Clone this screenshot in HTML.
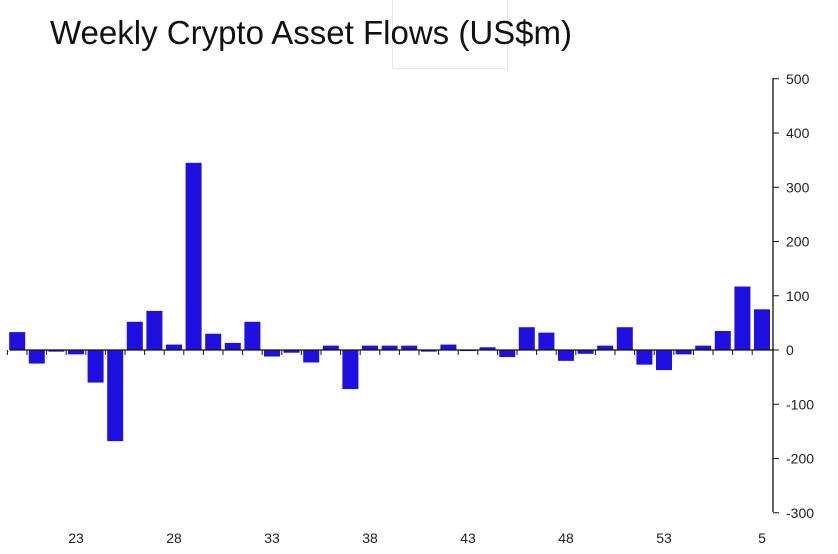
<!DOCTYPE html>
<html><head><meta charset="utf-8"><style>
html,body{margin:0;padding:0;background:#fff;}
body{width:838px;height:554px;overflow:hidden;position:relative;font-family:"Liberation Sans",sans-serif;}
#title{position:absolute;left:50px;top:14px;font-size:33px;color:#111;white-space:nowrap;}
#ghost{position:absolute;left:392px;top:-2px;width:114px;height:70px;border:1px solid #e6e6e6;border-top:none;}
svg{position:absolute;left:0;top:0;}
</style></head><body>
<div id="ghost"></div>
<div id="title">Weekly Crypto Asset Flows (US$m)</div>
<svg id="chart" width="838" height="554"></svg>
<script>
const weeks = [20,21,22,23,24,25,26,27,28,29,30,31,32,33,34,35,36,37,38,39,40,41,42,43,44,45,46,47,48,49,50,51,52,53,1,2,3,4,5];
const flows = [33,-25,-3,-8,-60,-168,52,72,10,345,30,13,52,-12,-5,-23,8,-72,8,8,8,-3,10,-2,5,-13,42,32,-20,-7,8,42,-27,-37,-8,8,35,117,75];
const yTicks = [500,400,300,200,100,0,-100,-200,-300];
const xLabelWeeks = [23,28,33,38,43,48,53,5];

const svg = document.getElementById('chart');
const NS = 'http://www.w3.org/2000/svg';
const y0 = 350, pxPerUnit = (512 - 78) / 800;
const yScale = v => y0 - v * pxPerUnit;
const step = 19.6, lastX = 762;
const xScale = i => lastX - (flows.length - 1 - i) * step;
const barW = 16;
function mk(tag, attrs) { const e = document.createElementNS(NS, tag); for (const k in attrs) e.setAttribute(k, attrs[k]); svg.appendChild(e); return e; }

flows.forEach((v, i) => {
  const top = Math.min(yScale(v), y0), h = Math.abs(yScale(v) - y0);
  const r = mk('rect', {x: xScale(i) - barW / 2, y: top, width: barW, height: h, fill: '#1d10e0'});
  
  
});

const zl = mk('line', {x1: 10, x2: 773, y1: y0, y2: y0, stroke: '#111', 'stroke-width': 1.3});


for (let i = 0; i < flows.length; i++) {
  const bx = xScale(i) - step / 2;
  const t = mk('line', {x1: bx, x2: bx, y1: y0, y2: y0 + 5, stroke: '#111', 'stroke-width': 1});
  
  
}
const ax = mk('line', {x1: 773, x2: 773, y1: 78, y2: 512, stroke: '#111', 'stroke-width': 1.3});


yTicks.forEach(v => {
  const y = yScale(v);
  const t = mk('line', {x1: 773, x2: 779, y1: y, y2: y, stroke: '#111', 'stroke-width': 1});
  
  
  const tx = mk('text', {x: 786, y: y + 5, 'font-size': 14, fill: '#222', 'font-family': 'Liberation Sans, sans-serif'});
  tx.textContent = v;
  
  
});
xLabelWeeks.forEach(w => {
  const i = weeks.lastIndexOf(w);
  const tx = mk('text', {x: xScale(i), y: 543, 'font-size': 14, fill: '#222', 'text-anchor': 'middle', 'font-family': 'Liberation Sans, sans-serif'});
  tx.textContent = w;
  
  
});
</script>
</body></html>
